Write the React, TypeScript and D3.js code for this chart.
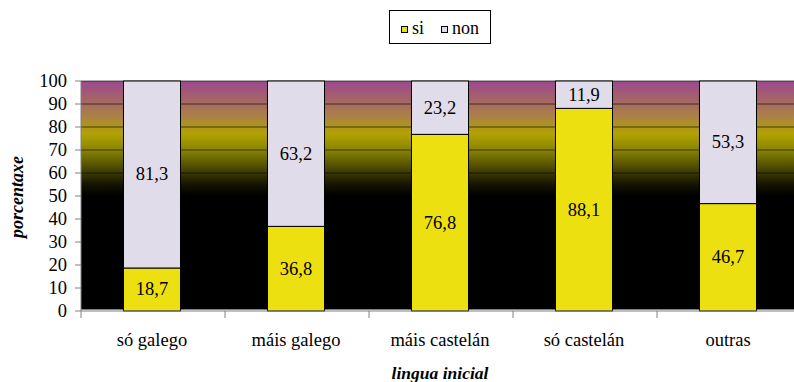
import React from "react";
import * as d3 from "d3";

const categories = ["só galego", "máis galego", "máis castelán", "só castelán", "outras"];
const siValues = [18.7, 36.8, 76.8, 88.1, 46.7];
const nonValues = [81.3, 63.2, 23.2, 11.9, 53.3];
const yTicks = [0, 10, 20, 30, 40, 50, 60, 70, 80, 90, 100];
const seriesNames = ["si", "non"];

const W = 794, H = 382;
const M = { left: 81, right: 801, top: 81, bottom: 311 };
const FONT = "Liberation Serif";
const colSi = "#ede011";
const colNon = "#e0dcea";
const axisCol = "#808080";

export default function App() {
  const x = d3.scaleBand<string>().domain(categories).range([M.left, M.right]).paddingInner(0).paddingOuter(0);
  const y = d3.scaleLinear().domain([0, 100]).range([M.bottom, M.top]);
  const bw = x.bandwidth() * 0.396;
  const fmt = (v: number) => v.toFixed(1).replace(".", ",");
  const stops = [
    { v: 100, c: "#9c4890" },
    { v: 92, c: "#a46468" },
    { v: 85, c: "#aa8048" },
    { v: 77, c: "#b2a200" },
    { v: 70, c: "#8a8400" },
    { v: 62, c: "#4a4800" },
    { v: 55, c: "#141400" },
    { v: 50, c: "#000000" },
    { v: 0, c: "#000000" },
  ];
  return (
    <div style={{ position: "absolute", left: 0, top: 0 }}>
      <svg width={W} height={H} style={{ display: "block", background: "#fff" }}>
        <defs>
          <linearGradient id="bg" x1="0" y1={M.top} x2="0" y2={M.bottom} gradientUnits="userSpaceOnUse">
            {stops.map((s, i) => (
              <stop key={i} offset={1 - s.v / 100} stopColor={s.c} />
            ))}
          </linearGradient>
        </defs>
        <rect x={M.left} y={M.top} width={M.right - M.left} height={M.bottom - M.top - 1.5} fill="url(#bg)" />
        {yTicks.filter((t) => t > 0).map((t) => (
          <line key={t} x1={M.left} x2={M.right} y1={y(t)} y2={y(t)} stroke="#000" strokeOpacity={0.6} strokeWidth={1} />
        ))}
        {categories.map((c, i) => {
          const cx = (x(c) as number) + x.bandwidth() / 2 - 1;
          const x0 = cx - bw / 2;
          return (
            <g key={c}>
              <rect x={x0} y={y(siValues[i])} width={bw} height={y(0) - y(siValues[i])} fill={colSi} stroke="#000" strokeWidth={1} />
              <rect x={x0} y={y(siValues[i] + nonValues[i])} width={bw} height={y(siValues[i]) - y(siValues[i] + nonValues[i])} fill={colNon} stroke="#000" strokeWidth={1} />
              <text x={cx} y={(y(0) + y(siValues[i])) / 2 + 6} textAnchor="middle" fontFamily={FONT} fontSize={18.5}>{fmt(siValues[i])}</text>
              <text x={cx} y={(y(siValues[i]) + y(siValues[i] + nonValues[i])) / 2 + 6} textAnchor="middle" fontFamily={FONT} fontSize={18.5}>{fmt(nonValues[i])}</text>
              <text x={cx} y={346} textAnchor="middle" fontFamily={FONT} fontSize={18.5}>{c}</text>
            </g>
          );
        })}
        {/* y axis */}
        <line x1={M.left} x2={M.left} y1={M.top} y2={M.bottom} stroke={axisCol} />
        {yTicks.map((t) => (
          <g key={t}>
            <line x1={M.left - 6} x2={M.left} y1={y(t)} y2={y(t)} stroke={axisCol} />
            <text x={M.left - 14} y={y(t) + 6} textAnchor="end" fontFamily={FONT} fontSize={18.5}>{t}</text>
          </g>
        ))}
        {/* x axis */}
        <line x1={M.left} x2={M.right} y1={M.bottom} y2={M.bottom} stroke={axisCol} />
        {[...categories.map((c) => x(c) as number), M.right].map((px, i) => (
          <line key={i} x1={px} x2={px} y1={M.bottom} y2={M.bottom + 7} stroke={axisCol} />
        ))}
        <text x={440} y={379} textAnchor="middle" fontFamily={FONT} fontSize={17.5} fontWeight="bold" fontStyle="italic">lingua inicial</text>
        <text transform={`translate(23,197) rotate(-90)`} textAnchor="middle" fontFamily={FONT} fontSize={18} fontWeight="bold" fontStyle="italic">porcentaxe</text>
        {/* legend */}
        <rect x={389.5} y={10.5} width={101} height={33} fill="#fff" stroke="#000" />
        <rect x={401.5} y={26.5} width={6} height={6} fill={colSi} stroke="#000" />
        <text x={412} y={34} fontFamily={FONT} fontSize={18}>{seriesNames[0]}</text>
        <rect x={441.5} y={26.5} width={6} height={6} fill={colNon} stroke="#000" />
        <text x={452} y={34} fontFamily={FONT} fontSize={18}>{seriesNames[1]}</text>
      </svg>
    </div>
  );
}
